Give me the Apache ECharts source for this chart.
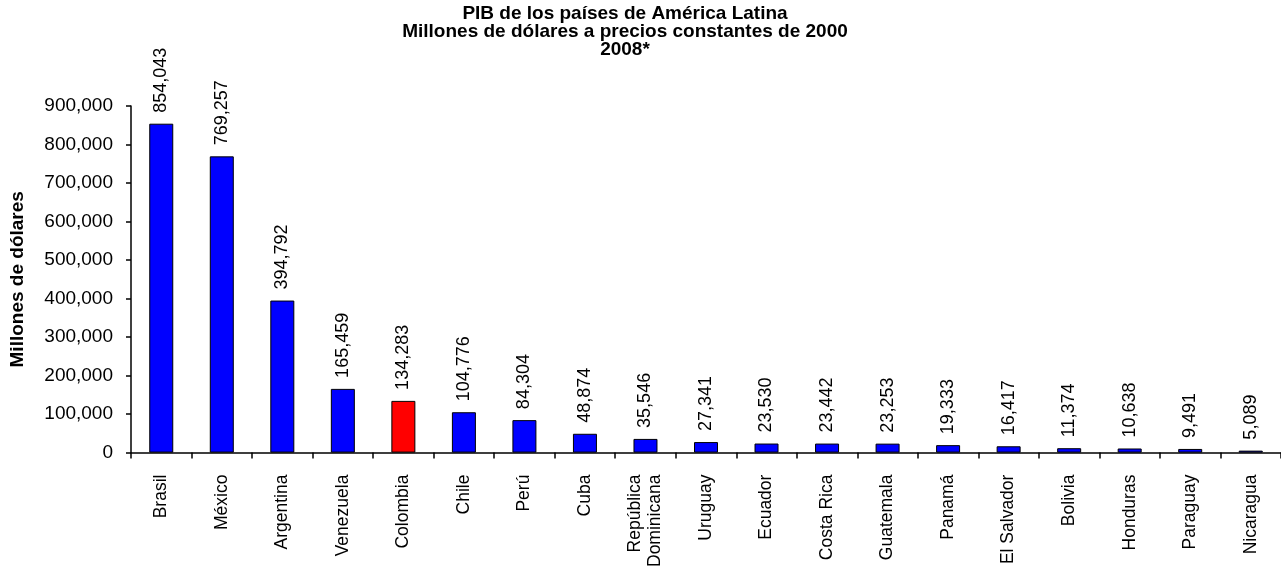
<!DOCTYPE html>
<html>
<head>
<meta charset="utf-8">
<script src="https://cdn.jsdelivr.net/npm/echarts@6/dist/echarts.min.js"></script>
<style>html,body{margin:0;padding:0;background:#fff}#c{width:1281px;height:570px}</style>
</head>
<body>
<div id="c"></div>
<script>
const titleLines = ['PIB de los países de América Latina', 'Millones de dólares a precios constantes de 2000', '2008*'];
const yAxisName = 'Millones de dólares';
const categories = ['Brasil', 'México', 'Argentina', 'Venezuela', 'Colombia', 'Chile', 'Perú', 'Cuba', 'República\nDominicana', 'Uruguay', 'Ecuador', 'Costa Rica', 'Guatemala', 'Panamá', 'El Salvador', 'Bolivia', 'Honduras', 'Paraguay', 'Nicaragua'];
const values = [854043, 769257, 394792, 165459, 134283, 104776, 84304, 48874, 35546, 27341, 23530, 23442, 23253, 19333, 16417, 11374, 10638, 9491, 5089];
const highlighted = ['Colombia'];
const yMin = 0, yMax = 900000, yStep = 100000;

const FONT = '"Liberation Sans", Arial, sans-serif';
const fmt = v => Number(v).toLocaleString('en-US');

const chart = echarts.init(document.getElementById('c'));
chart.setOption({
  animation: false,
  backgroundColor: '#ffffff',
  textStyle: { fontFamily: FONT, color: '#000' },
  graphic: [{
    type: 'text', x: 625, y: 5,
    style: { text: titleLines.join('\n'), fill: '#000', font: 'bold 19px ' + FONT, textAlign: 'center', textVerticalAlign: 'top', lineHeight: 18 }
  }],
  grid: { left: 124, top: 106, bottom: 109, width: 1167 },
  xAxis: {
    type: 'category', data: categories,
    axisLine: { lineStyle: { color: '#000', width: 1.5 } },
    axisTick: { show: true, length: 6, lineStyle: { color: '#000', width: 1.5 } },
    axisLabel: { rotate: 90, interval: 0, margin: 22, fontSize: 17.5, color: '#000', fontFamily: FONT, lineHeight: 20 },
    splitLine: { show: false }
  },
  yAxis: {
    type: 'value', min: yMin, max: yMax, interval: yStep,
    name: yAxisName, nameLocation: 'middle', nameGap: 104, nameRotate: 90,
    nameTextStyle: { fontSize: 19, fontWeight: 'bold', color: '#000', fontFamily: FONT },
    axisLine: { show: true, lineStyle: { color: '#000', width: 1.5 } },
    axisTick: { show: true, length: 5, lineStyle: { color: '#000', width: 1.5 } },
    axisLabel: { margin: 18, fontSize: 19, color: '#000', fontFamily: FONT, formatter: v => fmt(v) },
    splitLine: { show: false }
  },
  series: [{
    type: 'bar',
    barWidth: 24,
    data: values.map((v, i) => ({
      value: v,
      itemStyle: { color: highlighted.includes(categories[i]) ? '#ff0000' : '#0000ff', borderColor: '#000', borderWidth: 1 }
    })),
    label: {
      show: true, position: 'top', rotate: 90, align: 'left', verticalAlign: 'middle', distance: 11,
      fontSize: 18, color: '#000', fontFamily: FONT, formatter: p => fmt(p.value)
    }
  }]
});
</script>
</body>
</html>
